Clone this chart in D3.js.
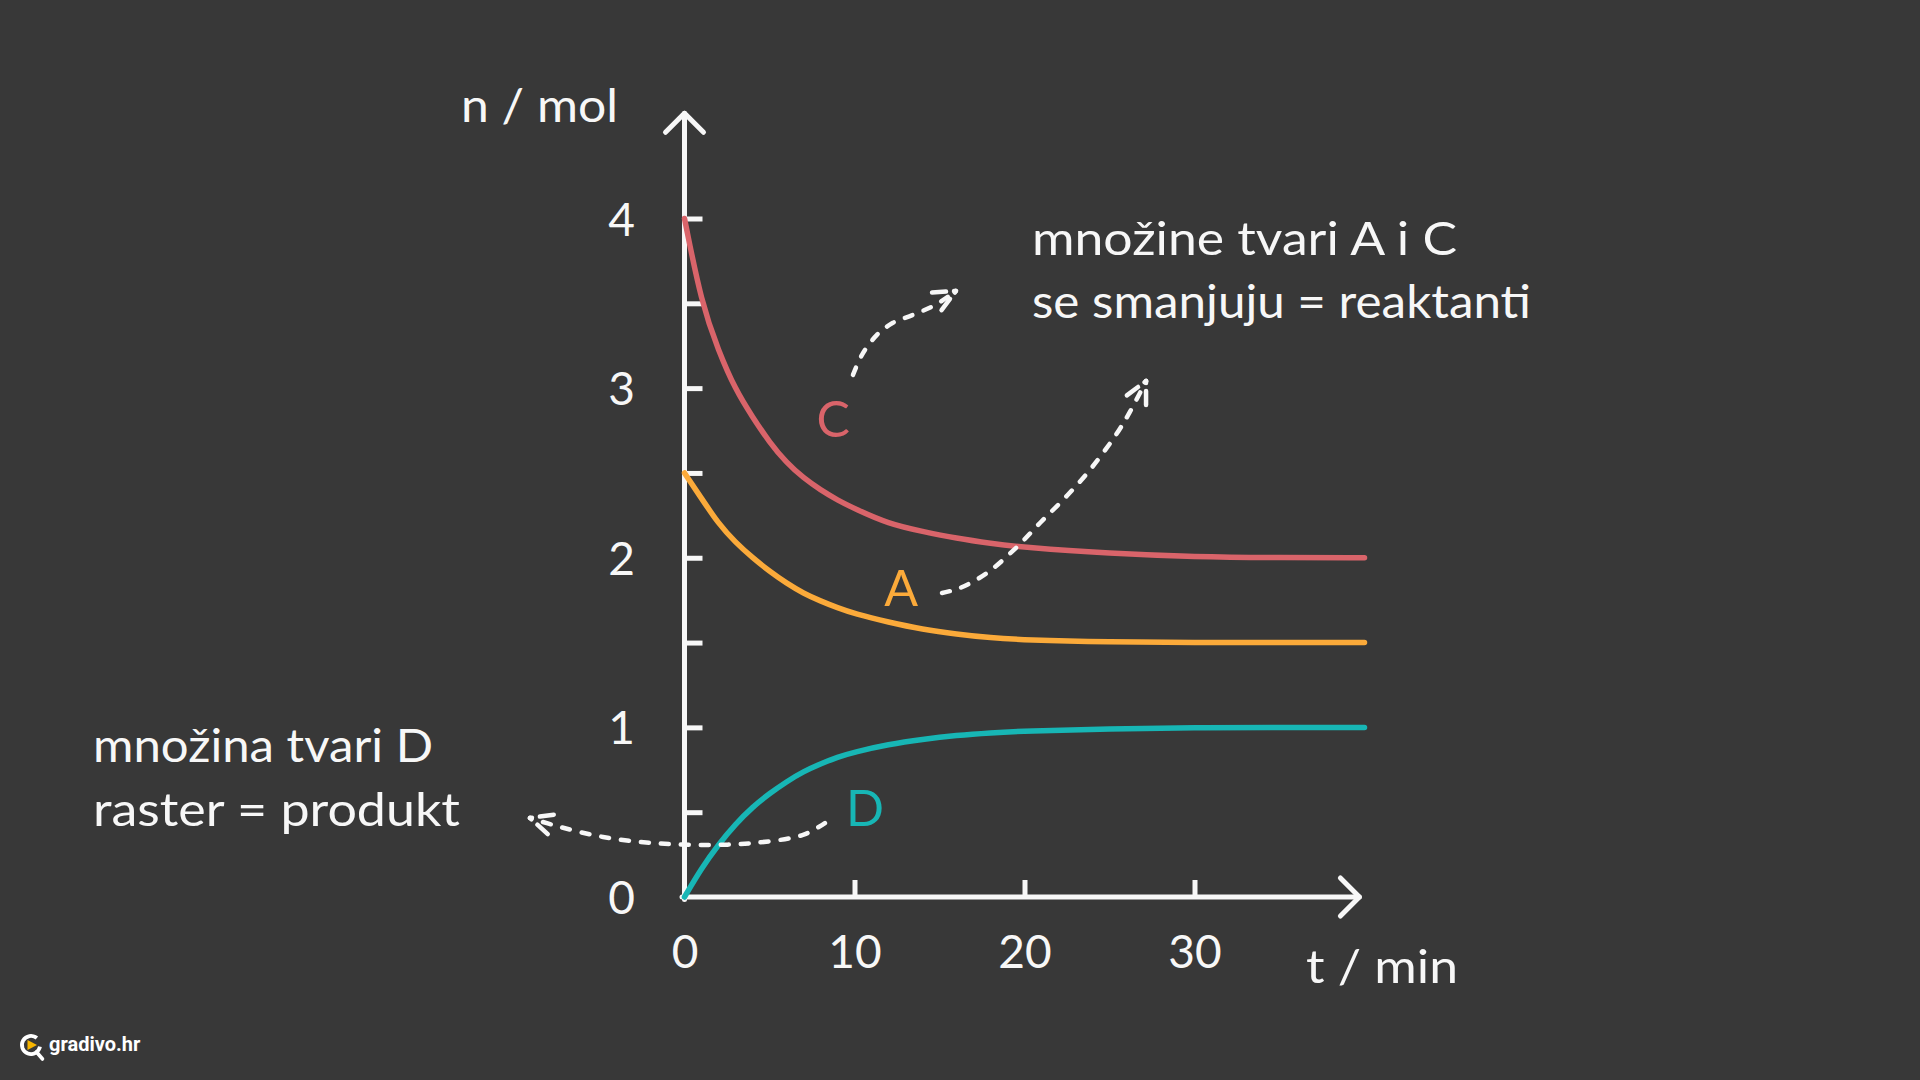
<!DOCTYPE html>
<html>
<head>
<meta charset="utf-8">
<script src="https://cdn.jsdelivr.net/npm/d3@7"></script>
<style>
  html, body { margin: 0; padding: 0; background: #383838; }
  svg { display: block; }
</style>
</head>
<body>
<svg id="chart" width="1920" height="1080"></svg>
<script>
// ---------------- DATA ----------------
const times   = [0, 1, 2, 3, 4, 5, 6, 7, 8, 9, 10, 12, 14, 16, 18, 20, 25, 30, 35, 40];
const seriesC = [4.0, 3.5, 3.22, 2.99, 2.83, 2.68, 2.56, 2.47, 2.4, 2.34, 2.29, 2.2, 2.155, 2.115, 2.085, 2.06, 2.025, 2.005, 2.0, 2.0];
const seriesA = [2.5, 2.35, 2.2, 2.09, 2.0, 1.92, 1.85, 1.79, 1.745, 1.705, 1.67, 1.62, 1.578, 1.55, 1.528, 1.515, 1.503, 1.5, 1.5, 1.5];
const seriesD = [0, 0.17, 0.31, 0.43, 0.53, 0.61, 0.68, 0.74, 0.785, 0.825, 0.855, 0.9, 0.93, 0.953, 0.968, 0.979, 0.992, 0.998, 1.0, 1.0];

const seriesNames  = ["C", "A", "D"];
const seriesColors = ["#d9646a", "#fbaa3a", "#17b6b5"];
// label anchor of each series (t, n)
const seriesLabelT = [8.74, 12.74, 10.62];
const seriesLabelN = [2.82, 1.82, 0.525];

const yTickValues = [0, 0.5, 1, 1.5, 2, 2.5, 3, 3.5, 4];
const yTickLabels = ["0", "", "1", "", "2", "", "3", "", "4"];
const xTickValues = [0, 10, 20, 30];
const xTickLabels = ["0", "10", "20", "30"];

const yAxisTitle = "n / mol";
const xAxisTitle = "t / min";
const noteReactants = ["množine tvari A i C", "se smanjuju = reaktanti"];
const noteProduct   = ["množina tvari D", "raster = produkt"];
const brandText = "gradivo.hr";

// dashed annotation arrows, points in data units (t, n)
const arrowC_t = [9.91, 10.44, 11.32, 12.26, 13.44, 14.74, 15.97];
const arrowC_n = [3.078, 3.196, 3.314, 3.385, 3.432, 3.49, 3.573];
const arrowC_headT = [14.15, 14.91];
const arrowC_headN = [3.561, 3.432];

const arrowA_t = [15.15, 16.21, 17.79, 19.56, 20.91, 22.38, 23.85, 25.38, 26.2, 27.15];
const arrowA_n = [1.792, 1.822, 1.91, 2.064, 2.205, 2.353, 2.518, 2.725, 2.86, 3.042];
const arrowA_headT = [25.74, 27.15];
const arrowA_headN = [2.936, 2.859];

const arrowD_t = [8.26, 6.97, 4.03, 1.09, -1.85, -4.79, -7.32, -9.09];
const arrowD_n = [0.436, 0.366, 0.318, 0.307, 0.318, 0.354, 0.413, 0.466];
const arrowD_headT = [-7.44, -7.79];
const arrowD_headN = [0.489, 0.348];

// axis extents (data units) where arrow tips sit
const yAxisEnd = 4.62;
const xAxisEnd = 39.7;

// ---------------- DRAW ----------------
const svg = d3.select("#chart");
const W = 1920, H = 1080;
const FONT = "Lato, 'Open Sans', 'Noto Sans', sans-serif";
const WHITE = "#f7f7f7";

svg.append("rect").attr("width", W).attr("height", H).attr("fill", "#383838");

const x = d3.scaleLinear().domain([0, 40]).range([684.5, 1364.5]);
const y = d3.scaleLinear().domain([0, 4]).range([897, 218.5]);

const AXW = 5;

// --- Y axis (ticks on the inside, labels left)
const yAxis = d3.axisLeft(y)
  .tickValues(yTickValues)
  .tickSize(-18)
  .tickPadding(0)
  .tickFormat((d, i) => yTickLabels[i]);

const gy = svg.append("g").attr("transform", `translate(${x(0)},0)`).call(yAxis);
gy.select(".domain").remove();
gy.selectAll(".tick line").attr("stroke", WHITE).attr("stroke-width", AXW);
gy.selectAll(".tick").filter(d => d === 0).select("line").remove();
gy.selectAll(".tick text")
  .attr("x", -63).attr("dy", "0.36em")
  .attr("text-anchor", "middle")
  .attr("fill", WHITE)
  .style("font-family", FONT).style("font-size", "46px");

// --- X axis (ticks upward, labels below)
const xAxis = d3.axisBottom(x)
  .tickValues(xTickValues)
  .tickSize(-17)
  .tickPadding(0)
  .tickFormat((d, i) => xTickLabels[i]);
const gx = svg.append("g").attr("transform", `translate(0,${y(0)})`).call(xAxis);
gx.select(".domain").remove();
gx.selectAll(".tick line").attr("stroke", WHITE).attr("stroke-width", AXW);
gx.selectAll(".tick").filter(d => d === 0).select("line").remove();
gx.selectAll(".tick text")
  .attr("y", 54).attr("dy", "0.36em")
  .attr("fill", WHITE)
  .style("font-family", FONT).style("font-size", "46px");

// axis lines with arrowheads
const axes = svg.append("g").attr("fill", "none").attr("stroke", WHITE)
  .attr("stroke-width", AXW).attr("stroke-linecap", "round").attr("stroke-linejoin", "round");
axes.append("line")
  .attr("x1", x(0)).attr("y1", y(0) + AXW / 2)
  .attr("x2", x(0)).attr("y2", y(yAxisEnd));
axes.append("line")
  .attr("x1", x(0) - AXW / 2).attr("y1", y(0))
  .attr("x2", x(xAxisEnd)).attr("y2", y(0));
const AH = 19;
axes.append("path")
  .attr("d", `M${x(0) - AH},${y(yAxisEnd) + AH} L${x(0)},${y(yAxisEnd)} L${x(0) + AH},${y(yAxisEnd) + AH}`);
axes.append("path")
  .attr("d", `M${x(xAxisEnd) - AH},${y(0) - AH} L${x(xAxisEnd)},${y(0)} L${x(xAxisEnd) - AH},${y(0) + AH}`);

// --- series curves
const seriesValues = [seriesC, seriesA, seriesD];
const line = d3.line()
  .x(d => x(d[0])).y(d => y(d[1]))
  .curve(d3.curveBasis);

seriesNames.forEach((name, i) => {
  const pts = times.map((t, j) => [t, seriesValues[i][j]]);
  svg.append("path")
    .datum(pts)
    .attr("d", line)
    .attr("fill", "none")
    .attr("stroke", seriesColors[i])
    .attr("stroke-width", 5.5)
    .attr("stroke-linecap", "round");
  svg.append("text")
    .attr("x", x(seriesLabelT[i]))
    .attr("y", y(seriesLabelN[i]))
    .attr("dy", "0.36em")
    .attr("text-anchor", "middle")
    .attr("fill", seriesColors[i])
    .style("font-family", FONT)
    .style("font-size", "50px")
    .text(name);
});

// --- dashed annotation arrows
const aLine = d3.line().x(d => x(d[0])).y(d => y(d[1])).curve(d3.curveCatmullRom.alpha(0.5));
function dashedArrow(ts, ns, hts, hns) {
  const g = svg.append("g").attr("fill", "none").attr("stroke", WHITE)
    .attr("stroke-width", 4.5).attr("stroke-linecap", "round")
    .attr("stroke-dasharray", "8 12");
  const pts = ts.map((t, i) => [t, ns[i]]);
  g.append("path").datum(pts).attr("d", aLine);
  const tip = pts[pts.length - 1];
  hts.forEach((t, i) => {
    g.append("line")
      .attr("x1", x(tip[0])).attr("y1", y(tip[1]))
      .attr("x2", x(t)).attr("y2", y(hns[i]))
      .attr("stroke-dasharray", "2 8 14 40");
  });
}
dashedArrow(arrowC_t, arrowC_n, arrowC_headT, arrowC_headN);
dashedArrow(arrowA_t, arrowA_n, arrowA_headT, arrowA_headN);
dashedArrow(arrowD_t, arrowD_n, arrowD_headT, arrowD_headN);

// --- texts
function fitText(sel, width) {
  const w = sel.node().getComputedTextLength();
  if (Math.abs(w - width) > 2) sel.attr("textLength", width).attr("lengthAdjust", "spacingAndGlyphs");
}
const tYT = svg.append("text").attr("x", 618).attr("y", 122).attr("text-anchor", "end")
  .attr("fill", WHITE).style("font-family", FONT).style("font-size", "46px").text(yAxisTitle);
fitText(tYT, 157);
const tXT = svg.append("text").attr("x", 1306).attr("y", 983)
  .attr("fill", WHITE).style("font-family", FONT).style("font-size", "46px").text(xAxisTitle);
fitText(tXT, 152);

const reactW = [425, 499];
noteReactants.forEach((s, i) => {
  const t = svg.append("text").attr("x", 1032).attr("y", 255 + i * 63)
    .attr("fill", WHITE).style("font-family", FONT).style("font-size", "46px").text(s);
  fitText(t, reactW[i]);
});
const prodW = [340, 367];
noteProduct.forEach((s, i) => {
  const t = svg.append("text").attr("x", 93).attr("y", 762 + i * 64)
    .attr("fill", WHITE).style("font-family", FONT).style("font-size", "46px").text(s);
  fitText(t, prodW[i]);
});

// --- brand logo
const logo = svg.append("g").attr("transform", "translate(31,1045)");
logo.append("path")
  .attr("d", d3.arc().innerRadius(7.2).outerRadius(11)
    .startAngle(Math.PI * 100 / 180).endAngle(Math.PI * 400 / 180)())
  .attr("fill", "#ffffff");
logo.append("line").attr("x1", 5.5).attr("y1", 7).attr("x2", 11.5).attr("y2", 14)
  .attr("stroke", "#ffffff").attr("stroke-width", 3.6).attr("stroke-linecap", "round");
logo.append("path").attr("d", "M-3.5,-5 L-3.5,5 L6,0 Z").attr("fill", "#f7b500");
svg.append("text").attr("x", 49).attr("y", 1051)
  .attr("fill", "#ffffff").style("font-family", "Roboto, sans-serif")
  .style("font-weight", 700).style("font-size", "20px").text(brandText);
</script>
</body>
</html>
